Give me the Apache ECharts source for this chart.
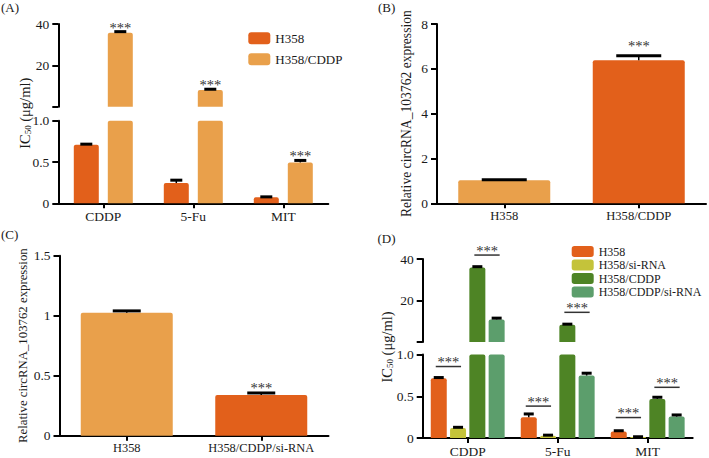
<!DOCTYPE html>
<html><head><meta charset="utf-8">
<script src="https://cdn.jsdelivr.net/npm/echarts@6/dist/echarts.min.js"></script>
<style>html,body{margin:0;padding:0;background:#fff}#c{width:709px;height:458px}</style>
</head><body><div id="c"></div>
<script>
// ---------------- data ----------------
// Panel A : IC50 of H358 vs H358/CDDP (broken axis)
const catsA = ['CDDP', '5-Fu', 'MIT'];
const namesA = ['H358', 'H358/CDDP'];
const aH358 = [0.71, 0.245, 0.072];
const aH358Err = [0.006, 0.035, 0.006];
const aCDDP = [35.8, 8.1, 0.495];
const aCDDPErr = [0.5, 0.35, 0.024];
const aCDDPSig = ['***', '***', '***'];

// Panel B : relative circRNA_103762 expression
const catsB = ['H358', 'H358/CDDP'];
const bVals = [1.03, 6.38];
const bErr = [0.02, 0.2];
const bSig = ['', '***'];

// Panel C : relative circRNA_103762 expression after si-RNA
const catsC = ['H358', 'H358/CDDP/si-RNA'];
const cVals = [1.025, 0.339];
const cErr = [0.015, 0.017];
const cSig = ['', '***'];

// Panel D : IC50 with si-RNA (broken axis)
const catsD = ['CDDP', '5-Fu', 'MIT'];
const namesD = ['H358', 'H358/si-RNA', 'H358/CDDP', 'H358/CDDP/si-RNA'];
const dH358 = [0.716, 0.248, 0.079];
const dH358Err = [0.008, 0.04, 0.008];
const dSi = [0.12, 0.028, 0.012];
const dSiErr = [0.008, 0.006, 0.003];
const dCDDP = [35.9, 8.3, 0.468];
const dCDDPErr = [0.4, 0.3, 0.02];
const dCDDPSi = [10.9, 0.748, 0.256];
const dCDDPSiErr = [0.6, 0.028, 0.02];
// significance brackets in D: category, first bar of pair, level (axis units), segment
const dSigCat = [0, 0, 1, 1, 2, 2];
const dSigBar = [0, 2, 0, 2, 0, 2];
const dSigLevel = [0.856, 41.9, 0.382, 14.3, 0.245, 0.607];
const dSigSeg = ['low', 'high', 'low', 'high', 'low', 'low'];
const sigText = '***';

// ---------------- style ----------------
const FONT = 'Liberation Serif';
const INK = '#1a1a1a';
const COL = { orange: '#E2601B', light: '#E9A04B', yg: '#C4C33A', green: '#4E8425', teal: '#5C9E6C' };
const colA = [COL.orange, COL.light];
const colB = [COL.light, COL.orange];
const colC = [COL.light, COL.orange];
const colD = [COL.orange, COL.yg, COL.green, COL.teal];
const STAR = 14.5;

const grids = [
  { left: 58.3, top: 24, width: 270, height: 82.7 },    // 0 A high
  { left: 58.3, top: 120.7, width: 270, height: 82.6 }, // 1 A low
  { left: 437, top: 24, width: 269, height: 179.3 },    // 2 B
  { left: 59.5, top: 255.7, width: 269, height: 180 },  // 3 C
  { left: 422.7, top: 259, width: 270, height: 83 },    // 4 D high
  { left: 422.7, top: 354.5, width: 270, height: 84.5 } // 5 D low
];

function xAx(g, cats, show, fs) {
  return {
    type: 'category', gridIndex: g, data: cats, show: show,
    axisLine: { show: true, onZero: false, lineStyle: { color: '#000', width: 2 } },
    axisTick: { show: true, alignWithLabel: true, length: 5, lineStyle: { color: '#000', width: 2 } },
    axisLabel: { interval: 0, fontFamily: FONT, fontSize: fs || 13.5, color: INK, margin: 6 }
  };
}
function yAx(g, min, max, step, fmt, extra) {
  return Object.assign({
    type: 'value', gridIndex: g, min: min, max: max, interval: step,
    axisLine: { show: true, lineStyle: { color: '#000', width: 2 } },
    axisTick: { show: true, length: 6, lineStyle: { color: '#000', width: 2 } },
    splitLine: { show: false },
    axisLabel: { fontFamily: FONT, fontSize: 13.5, color: INK, margin: 9, formatter: fmt }
  }, extra || {});
}
const fmtLow = v => (v === 0 ? '0' : v.toFixed(1));
const fmtHigh = v => (v === 0 ? '' : String(v));

function bars(g, name, vals, color, bw, gap, keep, perItemColors) {
  return {
    type: 'bar', name: name, xAxisIndex: g, yAxisIndex: g, barWidth: bw, barGap: gap, clip: true, silent: true,
    itemStyle: { color: color, borderRadius: [2, 2, 0, 0] },
    data: vals.map((v, i) => {
      const val = keep(v) ? v : '-';
      return perItemColors ? { value: val, itemStyle: { color: perItemColors[i] } } : val;
    })
  };
}

function errBars(g, vals, errs, sigs, offset, capW, sigGap, keep) {
  const data = [], sg = [];
  vals.forEach((v, i) => { if (keep(v)) { data.push([i, v, errs[i]]); sg.push(sigs ? sigs[i] : ''); } });
  return {
    type: 'custom', xAxisIndex: g, yAxisIndex: g, clip: false, z: 10, silent: true, data: data,
    renderItem: function (params, api) {
      const c = api.value(0), v = api.value(1), e = api.value(2);
      const p0 = api.coord([c, v]), p1 = api.coord([c, v + e]);
      const x = p0[0] + offset;
      const ch = [
        { type: 'line', shape: { x1: x, y1: p0[1], x2: x, y2: p1[1] }, style: { stroke: '#000', lineWidth: 1.5 } },
        { type: 'line', shape: { x1: x - capW / 2, y1: p1[1], x2: x + capW / 2, y2: p1[1] }, style: { stroke: '#000', lineWidth: 3 } }
      ];
      const s = sg[params.dataIndex];
      if (s) ch.push({ type: 'text', x: x, y: p1[1] - sigGap,
        style: { text: s, fontFamily: FONT, fontSize: STAR, fill: '#333', align: 'center', verticalAlign: 'middle' } });
      return { type: 'group', children: ch };
    }
  };
}

function sigBrackets(g, seg, pitch, n) {
  const data = [], firsts = [];
  dSigCat.forEach((c, i) => { if (dSigSeg[i] === seg) { data.push([c, dSigLevel[i]]); firsts.push(dSigBar[i]); } });
  return {
    type: 'custom', xAxisIndex: g, yAxisIndex: g, clip: false, z: 10, silent: true, data: data,
    renderItem: function (params, api) {
      const p = api.coord([api.value(0), api.value(1)]);
      const b = firsts[params.dataIndex];
      const xa = p[0] + (b - (n - 1) / 2) * pitch - 3;
      const xb = p[0] + (b + 1 - (n - 1) / 2) * pitch + 3;
      return { type: 'group', children: [
        { type: 'line', shape: { x1: xa, y1: p[1], x2: xb, y2: p[1] }, style: { stroke: '#333', lineWidth: 1.5 } },
        { type: 'text', x: (xa + xb) / 2, y: p[1] - 4.5,
          style: { text: sigText, fontFamily: FONT, fontSize: STAR, fill: '#333', align: 'center', verticalAlign: 'middle' } }
      ] };
    }
  };
}

const hi = v => v > 1, lo = v => v <= 1, all = () => true;
const series = [];
// Panel A
const pitchA = 34;
[[aH358, aH358Err, null], [aCDDP, aCDDPErr, aCDDPSig]].forEach((s, k) => {
  const off = (k - 0.5) * pitchA;
  series.push(bars(0, namesA[k], s[0], colA[k], 25, '36%', hi));
  series.push(bars(1, namesA[k], s[0], colA[k], 25, '36%', all));
  series.push(errBars(0, s[0], s[1], s[2], off, 12, 4, hi));
  series.push(errBars(1, s[0], s[1], s[2], off, 12, 4, lo));
});
// Panel B
series.push(bars(2, 'B', bVals, COL.orange, 92, '0%', all, colB));
series.push(errBars(2, bVals, bErr, bSig, 0, 45, 10, all));
// Panel C
series.push(bars(3, 'C', cVals, COL.orange, 92, '0%', all, colC));
series.push(errBars(3, cVals, cErr, cSig, 0, 28, 5, all));
// Panel D
const pitchD = 19.3;
[[dH358, dH358Err], [dSi, dSiErr], [dCDDP, dCDDPErr], [dCDDPSi, dCDDPSiErr]].forEach((s, k) => {
  const off = (k - 1.5) * pitchD;
  series.push(bars(4, namesD[k], s[0], colD[k], 16, '20.6%', hi));
  series.push(bars(5, namesD[k], s[0], colD[k], 16, '20.6%', all));
  series.push(errBars(4, s[0], s[1], null, off, 10, 4, hi));
  series.push(errBars(5, s[0], s[1], null, off, 10, 4, lo));
});
series.push(sigBrackets(4, 'high', pitchD, 4));
series.push(sigBrackets(5, 'low', pitchD, 4));

const legendBase = {
  orient: 'vertical', padding: 0, icon: 'roundRect', selectedMode: false,
  textStyle: { fontFamily: FONT, color: INK }
};

const ic50 = { text: 'IC{s|50} (μg/ml)', fontFamily: FONT, fontSize: 14.5, fill: INK, align: 'center', verticalAlign: 'middle',
  rich: { s: { fontSize: 9, fontFamily: FONT, fill: INK, padding: [6, 0, 0, 0] } } };

const option = {
  animation: false,
  backgroundColor: '#fff',
  title: [
    { text: '(A)', left: 1, top: 1 }, { text: '(B)', left: 378, top: 1 },
    { text: '(C)', left: 1, top: 228 }, { text: '(D)', left: 377.5, top: 232 }
  ].map(t => Object.assign(t, { padding: 0, textStyle: { fontFamily: FONT, fontSize: 13, fontWeight: 'normal', color: INK } })),
  grid: grids,
  xAxis: [xAx(0, catsA, false), xAx(1, catsA, true), xAx(2, catsB, true, 12.6), xAx(3, catsC, true, 12.4), xAx(4, catsD, false), xAx(5, catsD, true)],
  yAxis: [
    yAx(0, 0, 40, 20, fmtHigh),
    yAx(1, 0, 1, 0.5, fmtLow),
    yAx(2, 0, 8, 2, null, { name: 'Relative circRNA_103762 expression', nameLocation: 'middle', nameGap: 23.5,
      nameTextStyle: { fontFamily: FONT, fontSize: 13.6, color: INK } }),
    yAx(3, 0, 1.5, 0.5, null, { name: 'Relative circRNA_103762 expression', nameLocation: 'middle', nameGap: 19,
      nameTextStyle: { fontFamily: FONT, fontSize: 12.8, color: INK } }),
    yAx(4, 0, 40, 20, fmtHigh),
    yAx(5, 0, 1, 0.5, fmtLow)
  ],
  legend: [
    Object.assign({}, legendBase, { left: 248.3, top: 31.8, itemWidth: 22, itemHeight: 12, itemGap: 8,
      textStyle: { fontFamily: FONT, color: INK, fontSize: 13, lineHeight: 13 },
      data: namesA.map((n, i) => ({ name: n, itemStyle: { color: colA[i] } })) }),
    Object.assign({}, legendBase, { left: 571.7, top: 245.5, itemWidth: 22, itemHeight: 11, itemGap: 1.5,
      textStyle: { fontFamily: FONT, color: INK, fontSize: 12, lineHeight: 12 },
      data: namesD.map((n, i) => ({ name: n, itemStyle: { color: colD[i] } })) })
  ],
  graphic: [
    { type: 'text', x: 25, y: 113.3, rotation: Math.PI / 2, style: Object.assign({}, ic50) },
    { type: 'text', x: 386.7, y: 347, rotation: Math.PI / 2, style: Object.assign({}, ic50) }
  ],
  series: series
};
const chart = echarts.init(document.getElementById('c'), null, { renderer: 'svg' });
chart.setOption(option);
</script></body></html>
